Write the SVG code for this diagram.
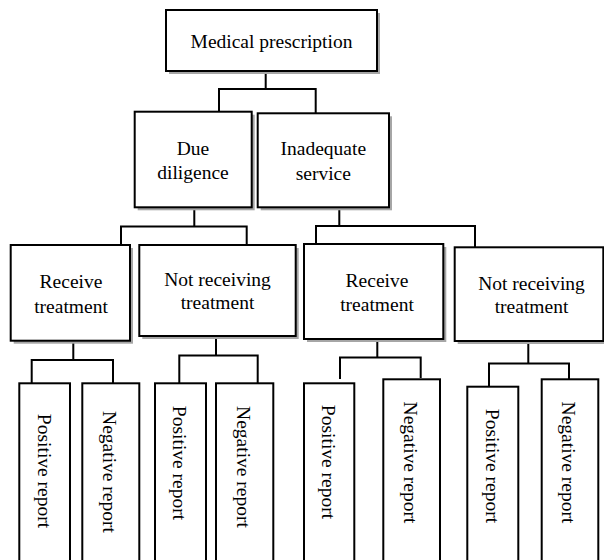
<svg xmlns="http://www.w3.org/2000/svg" width="604" height="560" viewBox="0 0 604 560">
<style>
.box{fill:#fff;stroke:#000;stroke-width:2}
.sh{fill:#a6a6a6;stroke:none}
.t{font-family:"Liberation Serif","Times New Roman",serif;font-size:19.5px;fill:#000;text-anchor:middle}
.v{font-family:"Liberation Serif","Times New Roman",serif;font-size:19.5px;fill:#000;text-anchor:middle}
.c{fill:none;stroke:#000;stroke-width:2}
</style>
<rect width="604" height="560" fill="#fff"/>
<g id="connectors">
<path class="c" d="M265.7 71V89M219 112V89H315.7V113"/>
<path class="c" d="M194.3 207V226.5M121 244V226.5H246.7V244"/>
<path class="c" d="M339.3 207V226M316 244V226H475V247"/>
<path class="c" d="M73.3 341V360M31.7 383V360H113V386"/>
<path class="c" d="M216 336V355.5M179.3 383V355.5H257.7V383"/>
<path class="c" d="M377.3 339V357.5M340 379V357.5H420.7V378"/>
<path class="c" d="M528.3 341V363.5M489 386V363.5H569V383"/>
</g>
<g id="medical">
<rect class="sh" x="169" y="13" width="211" height="61"/>
<rect class="box" x="166" y="10" width="211" height="61"/>
<text class="t" x="271.5" y="48">Medical prescription</text>
</g>
<g id="due">
<rect class="sh" x="137.7" y="114.7" width="117" height="95.6"/>
<rect class="box" x="134.7" y="111.7" width="117" height="95.6"/>
<text class="t" x="193" y="155">Due</text>
<text class="t" x="193" y="178.5">diligence</text>
</g>
<g id="inadequate">
<rect class="sh" x="260.7" y="116.3" width="131.3" height="94"/>
<rect class="box" x="257.7" y="113.3" width="131.3" height="94"/>
<text class="t" x="323.3" y="155">Inadequate</text>
<text class="t" x="323.3" y="180">service</text>
</g>
<g id="receive1">
<rect class="sh" x="13.7" y="248" width="119.3" height="95.7"/>
<rect class="box" x="10.7" y="245" width="119.3" height="95.7"/>
<text class="t" x="71" y="288.3">Receive</text>
<text class="t" x="71" y="313.3">treatment</text>
</g>
<g id="notreceiving1">
<rect class="sh" x="142.3" y="248" width="156.4" height="91"/>
<rect class="box" x="139.3" y="245" width="156.4" height="91"/>
<text class="t" x="217.5" y="285.5">Not receiving</text>
<text class="t" x="217.5" y="309.3">treatment</text>
</g>
<g id="receive2">
<rect class="sh" x="307" y="247" width="139.3" height="95"/>
<rect class="box" x="304" y="244" width="139.3" height="95"/>
<text class="t" x="377" y="286.7">Receive</text>
<text class="t" x="377" y="310.7">treatment</text>
</g>
<g id="notreceiving2">
<rect class="sh" x="457.7" y="250.3" width="148.6" height="93.7"/>
<rect class="box" x="454.7" y="247.3" width="148.6" height="93.7"/>
<text class="t" x="531.5" y="290">Not receiving</text>
<text class="t" x="531.5" y="313.3">treatment</text>
</g>
<g id="pos1">
<rect class="box" x="19.3" y="383.3" width="50.7" height="180"/>
<text class="v" transform="translate(44.5,471) rotate(90)" dy="0.35em">Positive report</text>
</g>
<g id="neg1">
<rect class="box" x="82.3" y="383.3" width="57" height="180"/>
<text class="v" transform="translate(109.5,472) rotate(90)" dy="0.35em">Negative report</text>
</g>
<g id="pos2">
<rect class="box" x="155" y="383.3" width="51" height="180"/>
<text class="v" transform="translate(180,463) rotate(90)" dy="0.35em">Positive report</text>
</g>
<g id="neg2">
<rect class="box" x="216" y="383.3" width="57.3" height="180"/>
<text class="v" transform="translate(243.5,467) rotate(90)" dy="0.35em">Negative report</text>
</g>
<g id="pos3">
<rect class="box" x="304" y="383.3" width="50.3" height="180"/>
<text class="v" transform="translate(328.5,462) rotate(90)" dy="0.35em">Positive report</text>
</g>
<g id="neg3">
<rect class="box" x="383.3" y="379.3" width="56.7" height="184"/>
<text class="v" transform="translate(410.5,462.5) rotate(90)" dy="0.35em">Negative report</text>
</g>
<g id="pos4">
<rect class="box" x="467.3" y="386.7" width="51" height="177"/>
<text class="v" transform="translate(492.5,466) rotate(90)" dy="0.35em">Positive report</text>
</g>
<g id="neg4">
<rect class="box" x="541.7" y="379.3" width="56.6" height="184"/>
<text class="v" transform="translate(569,462.5) rotate(90)" dy="0.35em">Negative report</text>
</g>
</svg>
